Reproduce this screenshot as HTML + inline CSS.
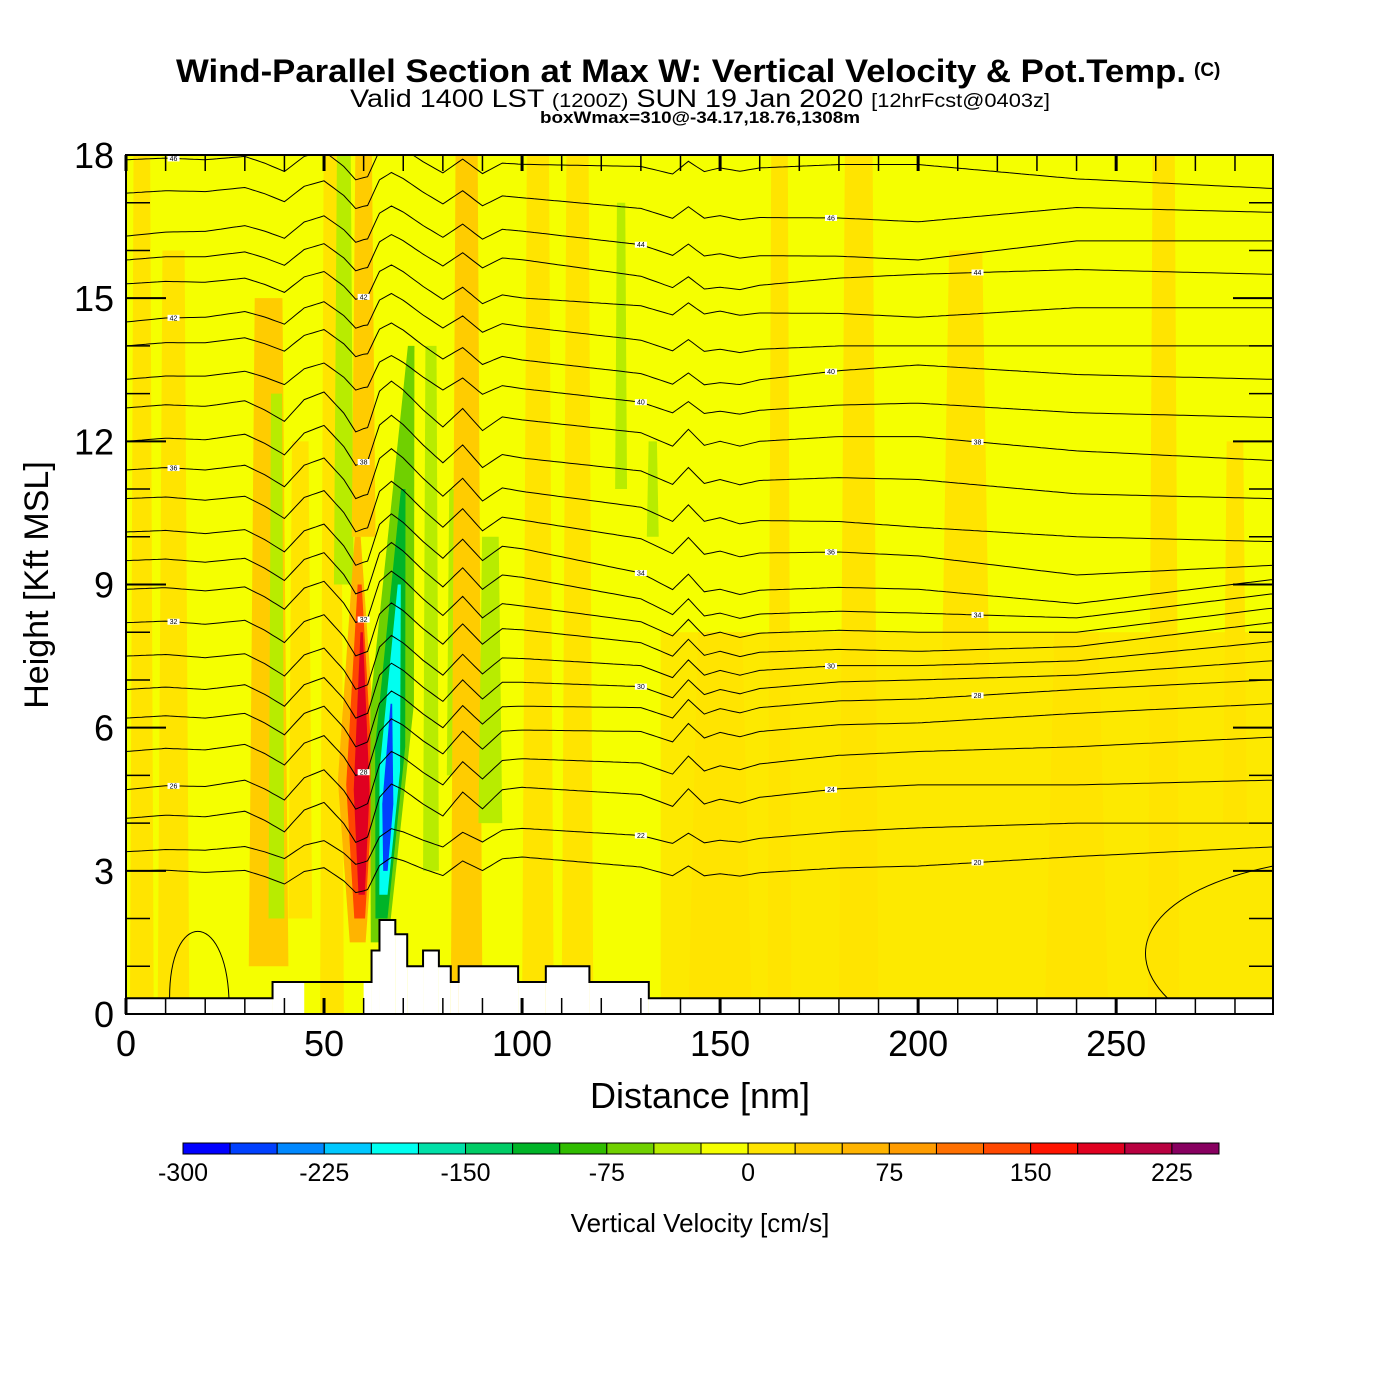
<!DOCTYPE html>
<html><head><meta charset="utf-8"><style>
body{margin:0;background:#fff;}
svg{display:block;font-family:"Liberation Sans",Arial,sans-serif;}
</style></head><body>
<svg id="chart" width="1400" height="1400" viewBox="0 0 1400 1400" xmlns="http://www.w3.org/2000/svg">
<rect width="1400" height="1400" fill="#fff"/>
<text x="176" y="82" font-size="32" font-weight="bold" textLength="1010" lengthAdjust="spacingAndGlyphs">Wind-Parallel Section at Max W: Vertical Velocity &amp; Pot.Temp.</text>
<text x="1194" y="76" font-size="19" font-weight="bold">(C)</text>
<text x="350" y="107" font-size="25" textLength="700" lengthAdjust="spacingAndGlyphs">Valid 1400 LST <tspan font-size="19">(1200Z)</tspan> SUN 19 Jan 2020 <tspan font-size="19">[12hrFcst@0403z]</tspan></text>
<text x="540" y="123" font-size="17" font-weight="bold" textLength="320" lengthAdjust="spacingAndGlyphs">boxWmax=310@-34.17,18.76,1308m</text>
<defs><clipPath id="plotclip"><rect x="126" y="155" width="1147" height="859"/></clipPath></defs>
<g id="field" clip-path="url(#plotclip)"></g>
<g id="contours" clip-path="url(#plotclip)"></g>
<g id="terrain"></g>
<g id="axes"></g>
<g id="cbar"></g>
<text x="700" y="1108" text-anchor="middle" font-size="36">Distance [nm]</text>
<text transform="translate(48,585) rotate(-90)" text-anchor="middle" font-size="34">Height [Kft MSL]</text>
<text x="700" y="1232" text-anchor="middle" font-size="26">Vertical Velocity [cm/s]</text>
</svg>
<script>
// ---- data ----
const xTicks = [0,50,100,150,200,250];
const yTicks = [0,3,6,9,12,15,18];
const cbLevels = [-300,-275,-250,-225,-200,-175,-150,-125,-100,-75,-50,-25,0,25,50,75,100,125,150,175,200,225,250];
const cbColors = ["#0000ff","#0040ff","#0088ff","#00c8ff","#00fff0","#00e0a8","#00cc66","#00b428","#30bc00","#70d000","#b8ec00","#f5ff00","#ffe400","#ffcc00","#ffb400","#ff9c00","#ff7000","#ff4800","#ff1400","#e00020","#b80040","#880060"];
const cbLabels = [-300,-225,-150,-75,0,75,150,225];
const bandDist = [4,12,36,38,44,52,55,60,77,83,86,92,104,114,125,133,150,165,185,212,240,262,280];
const bandHalf = [3,4,5,2,3,3,2.5,3,2,2,4,3,4,4,1.5,1.5,8,3,5,6,8,4,3];
const bandBot  = [0,0,1,2,2,0,9,10,3,5,0,4,0,0,11,10,0,0,0,7,0,0,4];
const bandTop  = [18,16,15,13,12,18,18,18,14,11,18,10,18,18,17,12,8,18,18,16,8,18,12];
const bandW    = [10,10,30,-40,10,20,-40,40,-40,-40,40,-50,10,10,-40,-40,10,10,10,10,10,10,10];
const plumeD0 = [58.5,59,59.5,64,64.5,65,65.5];
const plumeH0 = [1.5,2,2.5,1.5,2,2.5,3];
const plumeD1 = [58.5,59,59.5,72,70,69,67];
const plumeH1 = [10,9,8,14,11,9,6.5];
const plumeW  = [60,140,180,-70,-120,-190,-260];
const plumeHalf=[5,3.4,2,5.5,3.8,2.6,1.4];
const anchorD = [0,60,100,150,200,240,289];
const contourH = [
[17.9,17.9,17.7,17.8,17.8,17.5,17.3],[17.2,17.3,17.0,16.8,16.6,16.9,16.8],
[16.3,16.6,16.3,16.0,15.8,16.2,16.2],[15.8,16.0,15.7,15.3,15.5,15.6,15.5],
[15.3,15.4,14.9,14.8,14.6,14.8,14.8],[14.5,14.8,14.3,14.0,14.0,14.0,14.0],
[14.0,14.2,13.6,13.3,13.6,13.4,13.3],[13.3,13.5,13.0,12.7,12.8,12.6,12.5],
[12.7,12.8,12.3,12.1,12.1,11.8,11.6],[12.0,12.1,11.5,11.3,11.2,10.9,10.8],
[11.4,11.4,10.8,10.5,10.2,10.0,9.9],[10.8,10.7,10.2,9.8,9.6,9.2,9.4],
[10.1,10.0,9.6,9.0,8.9,8.6,9.1],[9.5,9.4,9.0,8.5,8.4,8.3,8.8],
[8.9,8.8,8.4,8.1,8.0,8.0,8.5],[8.2,8.1,7.9,7.7,7.6,7.7,8.2],
[7.5,7.4,7.3,7.3,7.3,7.4,7.8],[6.8,6.8,6.8,6.9,7.0,7.1,7.4],
[6.2,6.2,6.3,6.5,6.6,6.8,7.0],[5.5,5.6,5.8,6.0,6.1,6.3,6.5],
[4.7,4.9,5.2,5.3,5.5,5.6,5.8],[4.1,4.2,4.6,4.6,4.8,4.8,4.9],
[3.4,3.5,3.8,3.7,3.9,4.0,4.0],[3.0,2.9,3.2,3.0,3.1,3.3,3.5]];
const contourLabel = [46,46,44,44,42,42,40,40,38,38,36,36,34,34,32,32,30,30,28,28,26,24,22,20];
const waveD = [0,10,20,30,35,40,45,50,55,58,61,64,67,70,75,80,85,90,95,100,110,120,130,138,142,146,150,155,160,170,180,200,289];
const waveV = [0,0.05,0,0.1,-0.1,-0.35,0.1,0.25,-0.2,-0.6,-0.5,0.3,0.55,0.4,0.05,-0.25,0.2,-0.2,0.15,0.15,0.1,0.05,0,-0.25,0.12,-0.2,-0.1,-0.2,-0.1,-0.05,0,0,0];
const terStart = [0,37,60,62,64,68,71,75,79,82,84,99,106,117,132];
const terEnd   = [37,45,62,64,68,71,75,79,82,84,99,106,117,132,290];
const terH     = [0.33,0.67,0.67,1.33,1.97,1.67,1.0,1.33,1.0,0.67,1.0,0.67,1.0,0.67,0.33];

const X0=126,X1=1273,Y0=1014,Y1=155,XMAX=289.6,YMAX=18;
const sx=d=>X0+d*(X1-X0)/XMAX;
const sy=h=>Y0-h*(Y0-Y1)/YMAX;
const NS="http://www.w3.org/2000/svg";
function mk(tag,attrs,parent){const e=document.createElementNS(NS,tag);for(const k in attrs)e.setAttribute(k,attrs[k]);parent.appendChild(e);return e;}
function colorFor(w){for(let i=0;i<cbColors.length;i++){if(w<cbLevels[i+1])return cbColors[i];}return cbColors[cbColors.length-1];}
function interp(xs,ys,x){if(x<=xs[0])return ys[0];for(let i=1;i<xs.length;i++){if(x<=xs[i]){const t=(x-xs[i-1])/(xs[i]-xs[i-1]);return ys[i-1]+t*(ys[i]-ys[i-1]);}}return ys[ys.length-1];}

const field=document.getElementById('field');
let bg=mk('rect',{x:X0,y:Y1,width:X1-X0,height:Y0-Y1,fill:colorFor(-10)},field);


let gr=mk('rect',{x:sx(135),y:sy(8),width:X1-sx(135),height:sy(0)-sy(8),fill:colorFor(10),opacity:0.8},field);


for(let i=0;i<bandDist.length;i++){
  const d=bandDist[i],hw=bandHalf[i];
  const pts=[[d-hw,bandBot[i]],[d+hw,bandBot[i]],[d+hw*0.7,bandTop[i]],[d-hw*0.7,bandTop[i]]].map(p=>sx(p[0])+','+sy(p[1])).join(' ');
  const p=mk('polygon',{points:pts,fill:colorFor(bandW[i])},field);
  
  
}
for(let i=0;i<plumeD0.length;i++){
  const hw=plumeHalf[i];
  const m=(plumeH0[i]*0.6+plumeH1[i]*0.4), dm=(plumeD0[i]*0.6+plumeD1[i]*0.4);
  const pts=[[plumeD0[i]-hw*0.4,plumeH0[i]],[plumeD0[i]+hw*0.4,plumeH0[i]],[dm+hw,m],[plumeD1[i]+hw*0.15,plumeH1[i]],[plumeD1[i]-hw*0.15,plumeH1[i]],[dm-hw,m]].map(p=>sx(p[0])+','+sy(p[1])).join(' ');
  const p=mk('polygon',{points:pts,fill:colorFor(plumeW[i])},field);
  
  
}

const cg=document.getElementById('contours');
for(let c=0;c<contourH.length;c++){
  let pts=[];
  const amp = contourH[c][0]>13?0.7:(contourH[c][0]<4?0.6:1);
  for(let d=0;d<=290;d+=1){
    const h=interp(anchorD,contourH[c],d)+amp*interp(waveD,waveV,d);
    pts.push(sx(d).toFixed(1)+','+sy(h).toFixed(1));
  }
  const pl=mk('polyline',{points:pts.join(' '),fill:'none',stroke:'#000','stroke-width':1},cg);
  
  
  const ld=[12,178,130,215,60][c%5];
  const lh=interp(anchorD,contourH[c],ld)+amp*interp(waveD,waveV,ld);
  const lb=mk('rect',{x:sx(ld)-6,y:sy(lh)-3,width:12,height:6,fill:'#fff'},cg);
  
  
  const lt=mk('text',{x:sx(ld),y:sy(lh)+2.5,'font-size':7,'text-anchor':'middle'},cg);
  lt.textContent=contourLabel[c];
  
  
}
let k1=mk('path',{d:`M${sx(11)},${sy(0.33)} C${sx(11)},${sy(2.2)} ${sx(25)},${sy(2.2)} ${sx(26)},${sy(0.33)}`,fill:'none',stroke:'#000','stroke-width':1},cg);


let k2=mk('path',{d:`M${sx(289.6)},${sy(3.1)} C${sx(260)},${sy(2.6)} ${sx(250)},${sy(1.4)} ${sx(263)},${sy(0.33)}`,fill:'none',stroke:'#000','stroke-width':1},cg);



const tg=document.getElementById('terrain');
for(let i=0;i<terStart.length;i++){
  const r=mk('rect',{x:sx(terStart[i]),y:sy(terH[i]),width:sx(Math.min(terEnd[i],XMAX))-sx(terStart[i]),height:Y0-sy(terH[i]),fill:'#fff'},tg);
  
  
}
let tp=[];
for(let i=0;i<terStart.length;i++){tp.push(sx(terStart[i])+','+sy(terH[i]));tp.push(sx(Math.min(terEnd[i],XMAX))+','+sy(terH[i]));}
let tl=mk('polyline',{points:tp.join(' '),fill:'none',stroke:'#000','stroke-width':2},tg);



const ag=document.getElementById('axes');
let fr=mk('rect',{x:X0,y:Y1,width:X1-X0,height:Y0-Y1,fill:'none',stroke:'#000','stroke-width':2},ag);


for(let d=0;d<=XMAX;d+=10){
  const w=d%50===0?3:1.5;
  mk('line',{x1:sx(d),x2:sx(d),y1:Y0,y2:Y0-16,stroke:'#000','stroke-width':w},ag);
  mk('line',{x1:sx(d),x2:sx(d),y1:Y1,y2:Y1+16,stroke:'#000','stroke-width':w},ag);
}
xTicks.forEach(v=>{
  const t=mk('text',{x:sx(v),y:1056,'font-size':36,'text-anchor':'middle'},ag);t.textContent=v;
  
  
});
for(let h=0;h<=18;h++){
  const maj=h%3===0,len=maj?40:24,w=maj?2:1.5;
  mk('line',{x1:X0,x2:X0+len,y1:sy(h),y2:sy(h),stroke:'#000','stroke-width':w},ag);
  mk('line',{x1:X1,x2:X1-len,y1:sy(h),y2:sy(h),stroke:'#000','stroke-width':w},ag);
}
yTicks.forEach(v=>{
  const t=mk('text',{x:114,y:sy(v)+13,'font-size':36,'text-anchor':'end'},ag);t.textContent=v;
  
  
});

const cb=document.getElementById('cbar');
const CB0=183,CB1=1219,CBW=(CB1-CB0)/cbColors.length;
cbColors.forEach((c,i)=>{
  const r=mk('rect',{x:CB0+i*CBW,y:1143,width:CBW,height:11,fill:c,stroke:'#000','stroke-width':1},cb);
  
  
});
cbLabels.forEach(v=>{
  const i=cbLevels.indexOf(v);
  const t=mk('text',{x:CB0+i*CBW,y:1181,'font-size':25,'text-anchor':'middle'},cb);t.textContent=v;
  
  
});
</script>
</body></html>
